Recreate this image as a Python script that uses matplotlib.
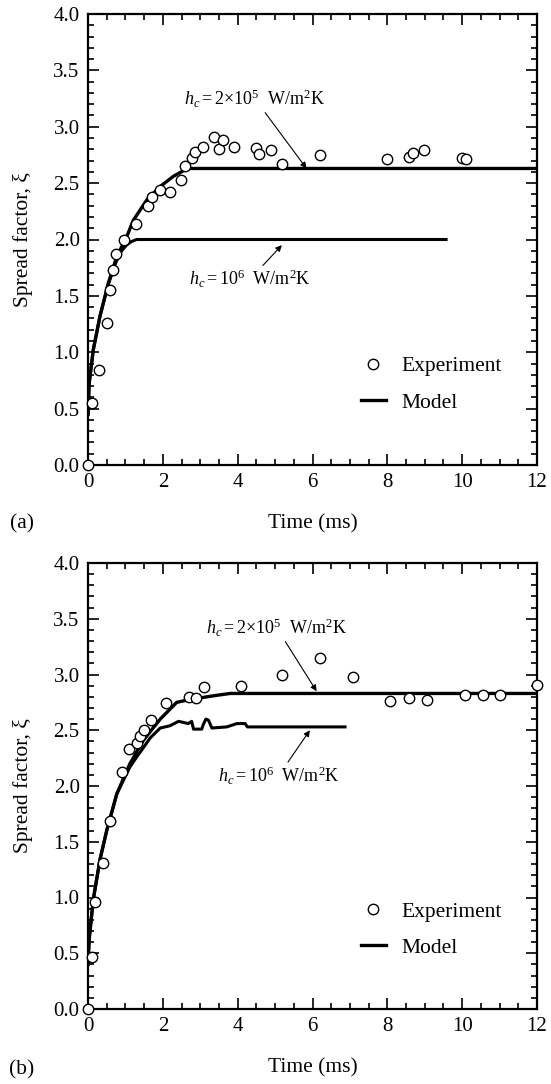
import numpy as np
import matplotlib
matplotlib.use('Agg')
import matplotlib.pyplot as plt

plt.rcParams['font.family'] = ['Liberation Serif', 'DejaVu Serif']
plt.rcParams['mathtext.fontset'] = 'custom'
plt.rcParams['mathtext.rm'] = 'Liberation Serif'
plt.rcParams['mathtext.it'] = 'Liberation Serif:italic'

# panel (a) experiment
ta_exp = [0.0, 0.10, 0.30, 0.50, 0.58, 0.68, 0.75, 0.95, 1.29, 1.61, 1.70, 1.92, 2.18,
          2.48, 2.59, 2.77, 2.86, 3.08, 3.36, 3.49, 3.60, 3.89, 4.49, 4.58, 4.88,
          5.18, 6.19, 7.99, 8.59, 8.68, 8.98, 9.99, 10.10]
xa_exp = [0.0, 0.55, 0.84, 1.26, 1.55, 1.73, 1.87, 2.00, 2.14, 2.30, 2.38, 2.44, 2.42,
          2.53, 2.65, 2.72, 2.78, 2.82, 2.91, 2.80, 2.88, 2.82, 2.81, 2.76, 2.79,
          2.67, 2.75, 2.71, 2.73, 2.77, 2.79, 2.72, 2.71]

# panel (a) model, h_c = 2e5 and 1e6
ta_m1 = [0.0, 0.03, 0.14, 0.32, 0.54, 0.77, 1.03, 1.21, 1.57, 1.93, 2.28, 2.55, 2.70, 6.0, 12.0]
xa_m1 = [0.45, 0.72, 1.02, 1.32, 1.61, 1.85, 2.02, 2.17, 2.35, 2.47, 2.56, 2.61, 2.63, 2.63, 2.63]
ta_m2 = [0.0, 0.03, 0.14, 0.32, 0.54, 0.75, 0.90, 1.03, 1.15, 1.30, 1.45, 9.57]
xa_m2 = [0.45, 0.72, 1.02, 1.32, 1.60, 1.80, 1.90, 1.95, 1.98, 2.00, 2.00, 2.00]

# panel (b) experiment
tb_exp = [0.0, 0.10, 0.19, 0.41, 0.60, 0.91, 1.09, 1.31, 1.40, 1.50, 1.69, 2.09, 2.71,
          2.89, 3.10, 4.08, 5.18, 6.19, 7.08, 8.07, 8.57, 9.07, 10.08, 10.57, 11.0, 12.0]
xb_exp = [0.0, 0.47, 0.96, 1.31, 1.69, 2.13, 2.33, 2.39, 2.45, 2.50, 2.59, 2.74, 2.80,
          2.79, 2.89, 2.90, 3.00, 3.15, 2.98, 2.76, 2.79, 2.77, 2.82, 2.82, 2.82, 2.91]

# panel (b) model
tb_m1 = [0.0, 0.03, 0.14, 0.32, 0.50, 0.77, 1.12, 1.48, 1.93, 2.37, 2.64, 2.85, 2.92,
         3.0, 3.37, 3.80, 12.0]
xb_m1 = [0.40, 0.62, 0.98, 1.34, 1.60, 1.93, 2.20, 2.41, 2.60, 2.75, 2.77, 2.78, 2.80,
         2.79, 2.81, 2.83, 2.83]
tb_m2 = [0.0, 0.03, 0.14, 0.32, 0.50, 0.77, 1.12, 1.30, 1.43, 1.66, 1.93, 2.19, 2.42,
         2.68, 2.77, 2.82, 3.04, 3.08, 3.15, 3.22, 3.31, 3.71, 3.98, 4.20, 4.26, 6.87]
xb_m2 = [0.40, 0.62, 0.98, 1.34, 1.60, 1.93, 2.17, 2.26, 2.32, 2.43, 2.52, 2.54, 2.58,
         2.56, 2.58, 2.51, 2.51, 2.55, 2.60, 2.59, 2.52, 2.53, 2.56, 2.56, 2.53, 2.53]

lab_2e5 = r'$h_c = 2{\times}10^5\ \ \mathrm{W/m^2K}$'
lab_1e6 = r'$h_c = 10^6\ \ \mathrm{W/m^2K}$'

W, H = 551, 1084
fig = plt.figure(figsize=(W / 100, H / 100), dpi=100)


def setupAxes(ax):
    ax.set_xlim(0, 12)
    ax.set_ylim(0, 4)
    ax.set_xticks(np.arange(0, 13, 2))
    ax.set_xticks(np.arange(0, 12.01, 0.5), minor=True)
    ax.set_yticks(np.arange(0, 4.01, 0.5))
    ax.set_yticks(np.arange(0, 4.01, 0.1), minor=True)
    ax.yaxis.set_major_formatter(matplotlib.ticker.FormatStrFormatter('%.1f'))
    ax.tick_params(which='both', direction='in', top=True, right=True, width=1.2,
                   labelsize=15, pad=6)
    ax.tick_params(which='major', length=8)
    ax.tick_params(which='minor', length=4.5)
    for s in ax.spines.values():
        s.set_linewidth(1.6)
    ax.set_xlabel('Time (ms)', fontsize=15.5, labelpad=16)
    ax.set_ylabel('Spread factor, ξ', fontsize=15.5, labelpad=15)


def drawPanel(ax, t_exp, x_exp, t1, x1, t2, x2, ann1, ann2, leg_y):
    ax.plot(t1, x1, color='k', lw=2.4, label='Model')
    ax.plot(t2, x2, color='k', lw=2.2)
    ax.plot(t_exp, x_exp, 'o', mfc='white', mec='k', ms=7.5, mew=1.0,
            clip_on=False, zorder=5, label='Experiment')
    arr = dict(arrowstyle='-|>', color='k', lw=0.8, mutation_scale=9,
               shrinkA=0, shrinkB=0)
    ax.annotate(lab_2e5, xy=ann1[0], xytext=ann1[1], fontsize=13,
                ha='center', va='bottom', arrowprops=arr)
    ax.annotate(lab_1e6, xy=ann2[0], xytext=ann2[1], fontsize=13,
                ha='center', va='top', arrowprops=arr)
    h, l = ax.get_legend_handles_labels()
    ax.legend(h[::-1], l[::-1], loc='upper left', bbox_to_anchor=(0.584, leg_y),
              frameon=False, fontsize=15.5, borderpad=0, handlelength=1.15,
              handletextpad=0.75, labelspacing=0.75)
    setupAxes(ax)


axA = fig.add_axes([88 / W, 1 - 465 / H, 449 / W, 451 / H])
drawPanel(axA, ta_exp, xa_exp, ta_m1, xa_m1, ta_m2, xa_m2,
          ((5.84, 2.63), (4.46, 3.15)),
          ((5.18, 1.95), (4.33, 1.745)), 0.265)

axB = fig.add_axes([88 / W, 1 - 1009 / H, 449 / W, 446 / H])
drawPanel(axB, tb_exp, xb_exp, tb_m1, xb_m1, tb_m2, xb_m2,
          ((6.11, 2.85), (5.04, 3.32)),
          ((5.93, 2.50), (5.09, 2.19)), 0.265)

fig.text(22 / W, 1 - 524 / H, '(a)', fontsize=15.5, ha='center', va='center')
fig.text(22 / W, 1 - 1070 / H, '(b)', fontsize=15.5, ha='center', va='center')

fig.savefig('out.png', dpi=100)
